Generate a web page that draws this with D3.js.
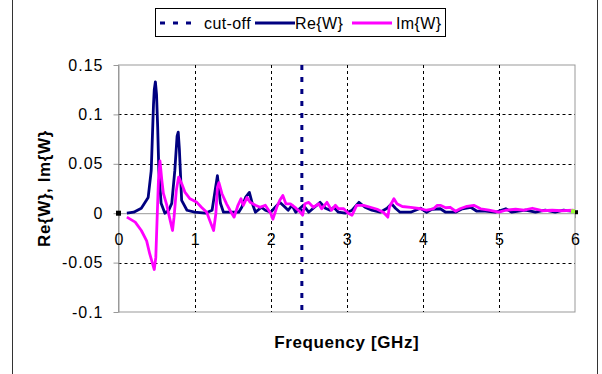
<!DOCTYPE html>
<html>
<head>
<meta charset="utf-8">
<script src="https://cdn.jsdelivr.net/npm/d3@7"></script>
<style>
  body { margin: 0; background: #fff; }
  svg { display: block; font-family: "Liberation Sans", Arial, sans-serif; }
</style>
</head>
<body>
<div id="chart"></div>
<script>
// Re{W} samples (frequency in GHz, value)
const reFreq = [0.11, 0.2, 0.3, 0.39, 0.43, 0.46, 0.47, 0.485, 0.5, 0.515, 0.53, 0.56, 0.61, 0.66, 0.7, 0.74, 0.77, 0.785, 0.8, 0.83, 0.9, 1.0, 1.14, 1.23, 1.27, 1.3, 1.34, 1.38, 1.58, 1.62, 1.67, 1.72, 1.76, 1.8, 1.88, 1.93, 2.0, 2.06, 2.12, 2.19, 2.23, 2.28, 2.33, 2.43, 2.5, 2.56, 2.65, 2.72, 2.78, 2.83, 2.89, 2.98, 3.07, 3.16, 3.24, 3.33, 3.44, 3.53, 3.59, 3.64, 3.7, 3.84, 3.97, 4.05, 4.12, 4.23, 4.3, 4.43, 4.52, 4.63, 4.71, 4.82, 4.95, 5.09, 5.17, 5.35, 5.48, 5.61, 5.74, 5.85, 5.96, 6.0];
const reVal = [0.0, 0.001, 0.005, 0.016, 0.043, 0.11, 0.125, 0.133, 0.12, 0.087, 0.043, 0.01, 0.0, 0.003, 0.01, 0.043, 0.078, 0.082, 0.065, 0.013, 0.003, 0.001, 0.0, 0.003, 0.023, 0.038, 0.01, 0.001, 0.001, 0.006, 0.016, 0.021, 0.0095, 0.001, 0.006, 0.003, 0.001, 0.006, 0.011, 0.006, 0.003, 0.008, 0.001, 0.008, 0.001, 0.005, 0.011, 0.005, 0.003, 0.006, 0.001, 0.0, 0.003, 0.011, 0.006, 0.003, 0.001, 0.005, 0.0095, 0.005, 0.001, 0.001, 0.005, 0.001, 0.004, 0.0045, 0.001, 0.001, 0.0045, 0.006, 0.002, 0.002, 0.001, 0.0045, 0.001, 0.003, 0.001, 0.003, 0.001, 0.003, 0.002, 0.002];

// Im{W} samples
const imFreq = [0.11, 0.22, 0.3, 0.37, 0.41, 0.47, 0.49, 0.51, 0.525, 0.545, 0.57, 0.59, 0.63, 0.68, 0.71, 0.73, 0.76, 0.79, 0.83, 0.875, 0.94, 1.03, 1.09, 1.16, 1.2, 1.25, 1.28, 1.3, 1.32, 1.36, 1.42, 1.48, 1.52, 1.57, 1.61, 1.64, 1.69, 1.73, 1.8, 1.86, 1.93, 2.0, 2.03, 2.08, 2.12, 2.16, 2.2, 2.26, 2.32, 2.39, 2.42, 2.45, 2.5, 2.56, 2.63, 2.67, 2.74, 2.8, 2.85, 2.89, 2.96, 3.02, 3.07, 3.13, 3.22, 3.31, 3.4, 3.48, 3.54, 3.56, 3.62, 3.66, 3.73, 3.84, 3.97, 4.05, 4.14, 4.19, 4.23, 4.3, 4.36, 4.43, 4.49, 4.58, 4.67, 4.76, 4.87, 5.0, 5.09, 5.22, 5.33, 5.44, 5.57, 5.7, 5.83, 5.98];
const imVal = [-0.004, -0.009, -0.0175, -0.028, -0.041, -0.057, -0.045, 0.0, 0.033, 0.053, 0.033, 0.02, 0.0095, -0.0075, -0.0175, -0.004, 0.023, 0.0365, 0.03, 0.021, 0.0146, 0.011, 0.006, 0.001, -0.0075, -0.0175, 0.0, 0.026, 0.031, 0.0197, 0.0095, 0.001, -0.004, 0.008, 0.0146, 0.008, 0.016, 0.011, 0.008, 0.006, 0.008, 0.0, -0.006, 0.006, 0.013, 0.018, 0.0095, 0.0095, 0.006, 0.001, -0.002, 0.0095, 0.011, 0.006, 0.0095, 0.0045, 0.011, 0.003, 0.008, 0.0045, 0.0045, 0.0, -0.002, 0.008, 0.008, 0.006, 0.004, 0.001, -0.004, 0.006, 0.0146, 0.0095, 0.0068, 0.006, 0.0045, 0.003, 0.0045, 0.008, 0.008, 0.0055, 0.006, 0.002, 0.0045, 0.007, 0.008, 0.0045, 0.003, 0.001, 0.003, 0.004, 0.003, 0.005, 0.0025, 0.003, 0.0025, 0.003];

const cutOff = 2.41;
const xTicks = [0, 1, 2, 3, 4, 5, 6];
const yTicks = [-0.1, -0.05, 0, 0.05, 0.1, 0.15];
const yTickLabels = ["-0.1", "-0.05", "0", "0.05", "0.1", "0.15"];
const legendLabels = ["cut-off", "Re{W}", "Im{W}"];

const width = 602, height = 374;
const svg = d3.select("#chart").append("svg")
    .attr("width", width)
    .attr("height", height);

// outer chart frame
svg.append("rect")
    .attr("x", 12.5).attr("y", -5)
    .attr("width", 585).attr("height", 390)
    .attr("fill", "none").attr("stroke", "#333").attr("stroke-width", 1);

const x = d3.scaleLinear().domain([0, 6]).range([118.5, 575]);
const y = d3.scaleLinear().domain([-0.1, 0.15]).range([312, 65]);

// plot area border
svg.append("rect")
    .attr("x", x(0)).attr("y", y(0.15))
    .attr("width", x(6) - x(0)).attr("height", y(-0.1) - y(0.15))
    .attr("fill", "none").attr("stroke", "#999").attr("stroke-width", 1);

// grid
svg.append("g")
    .selectAll("line")
    .data(xTicks.filter(d => d > 0 && d < 6))
    .join("line")
    .attr("x1", d => Math.round(x(d)) + 0.5).attr("x2", d => Math.round(x(d)) + 0.5)
    .attr("y1", y(0.15)).attr("y2", y(-0.1))
    .attr("stroke", "#000").attr("stroke-dasharray", "3,3");

svg.append("g")
    .selectAll("line")
    .data(yTicks.filter(d => d !== 0 && d !== 0.15 && d !== -0.1))
    .join("line")
    .attr("x1", x(0)).attr("x2", x(6))
    .attr("y1", d => Math.round(y(d)) + 0.5).attr("y2", d => Math.round(y(d)) + 0.5)
    .attr("stroke", "#000").attr("stroke-dasharray", "3,3");

// y axis
const yAxis = svg.append("g")
    .attr("transform", `translate(${x(0)},0)`)
    .call(d3.axisLeft(y).tickValues(yTicks).tickSize(5).tickSizeOuter(0).tickPadding(10)
        .tickFormat((d, i) => yTickLabels[i]));
yAxis.selectAll("path, line").attr("stroke", "#999");
yAxis.selectAll("text")
    .attr("font-size", 16).attr("letter-spacing", 1).attr("fill", "#000")
    .attr("font-family", "Liberation Sans, Arial, sans-serif");

// x axis at y = 0
const xAxis = svg.append("g")
    .attr("transform", `translate(0,${y(0)})`)
    .call(d3.axisBottom(x).tickValues(xTicks).tickSize(5).tickSizeOuter(0)
        .tickFormat(d => String(d)));
xAxis.selectAll("path, line").attr("stroke", "#999");
xAxis.selectAll("text")
    .attr("y", 32).attr("dy", 0)
    .attr("font-size", 16).attr("fill", "#000")
    .attr("font-family", "Liberation Sans, Arial, sans-serif");

// cut-off line
svg.append("line")
    .attr("x1", x(cutOff)).attr("x2", x(cutOff))
    .attr("y1", y(0.15)).attr("y2", y(-0.1))
    .attr("stroke", "#000080").attr("stroke-width", 3)
    .attr("stroke-dasharray", "5,7");

const line = d3.line().x(d => x(d[0])).y(d => y(d[1]));

svg.append("path")
    .datum(d3.zip(reFreq, reVal))
    .attr("d", line)
    .attr("fill", "none").attr("stroke", "#000080").attr("stroke-width", 2.8)
    .attr("stroke-linejoin", "round");

svg.append("path")
    .datum(d3.zip(imFreq, imVal))
    .attr("d", line)
    .attr("fill", "none").attr("stroke", "#ff00ff").attr("stroke-width", 2.8)
    .attr("stroke-linejoin", "round");

// end markers
svg.append("rect")
    .attr("x", x(0) - 2.5).attr("y", y(0) - 2.5).attr("width", 5).attr("height", 5)
    .attr("fill", "#000");
svg.append("rect")
    .attr("x", x(6) - 4).attr("y", y(0.002) - 2).attr("width", 4).attr("height", 4)
    .attr("fill", "#99ff33");
svg.append("rect")
    .attr("x", x(6)).attr("y", y(0.002) - 1).attr("width", 3).attr("height", 4)
    .attr("fill", "#000");

// axis titles
svg.append("text")
    .attr("x", x(3)).attr("y", 347.5)
    .attr("text-anchor", "middle")
    .attr("font-size", 17).attr("font-weight", "bold").attr("letter-spacing", 0.6)
    .text("Frequency [GHz]");

svg.append("text")
    .attr("transform", `translate(50,${(y(0.15) + y(-0.1)) / 2}) rotate(-90)`)
    .attr("text-anchor", "middle")
    .attr("font-size", 17).attr("font-weight", "bold").attr("letter-spacing", 0.6)
    .text("Re{W}, Im{W}");

// legend
const legend = svg.append("g");
legend.append("rect")
    .attr("x", 155.5).attr("y", 8.5).attr("width", 290).attr("height", 28)
    .attr("fill", "#fff").attr("stroke", "#000");

const legendItems = [
    { x1: 160, x2: 194, tx: 204, color: "#000080", dash: "5,8" },
    { x1: 255, x2: 295, tx: 295, color: "#000080", dash: null },
    { x1: 352, x2: 392, tx: 396, color: "#ff00ff", dash: null }
];
legendItems.forEach((it, i) => {
    legend.append("line")
        .attr("x1", it.x1).attr("x2", it.x2).attr("y1", 23).attr("y2", 23)
        .attr("stroke", it.color).attr("stroke-width", 3)
        .attr("stroke-dasharray", it.dash);
    legend.append("text")
        .attr("x", it.tx).attr("y", 28.5)
        .attr("font-size", 16).attr("letter-spacing", 0.4)
        .text(legendLabels[i]);
});
</script>
</body>
</html>
